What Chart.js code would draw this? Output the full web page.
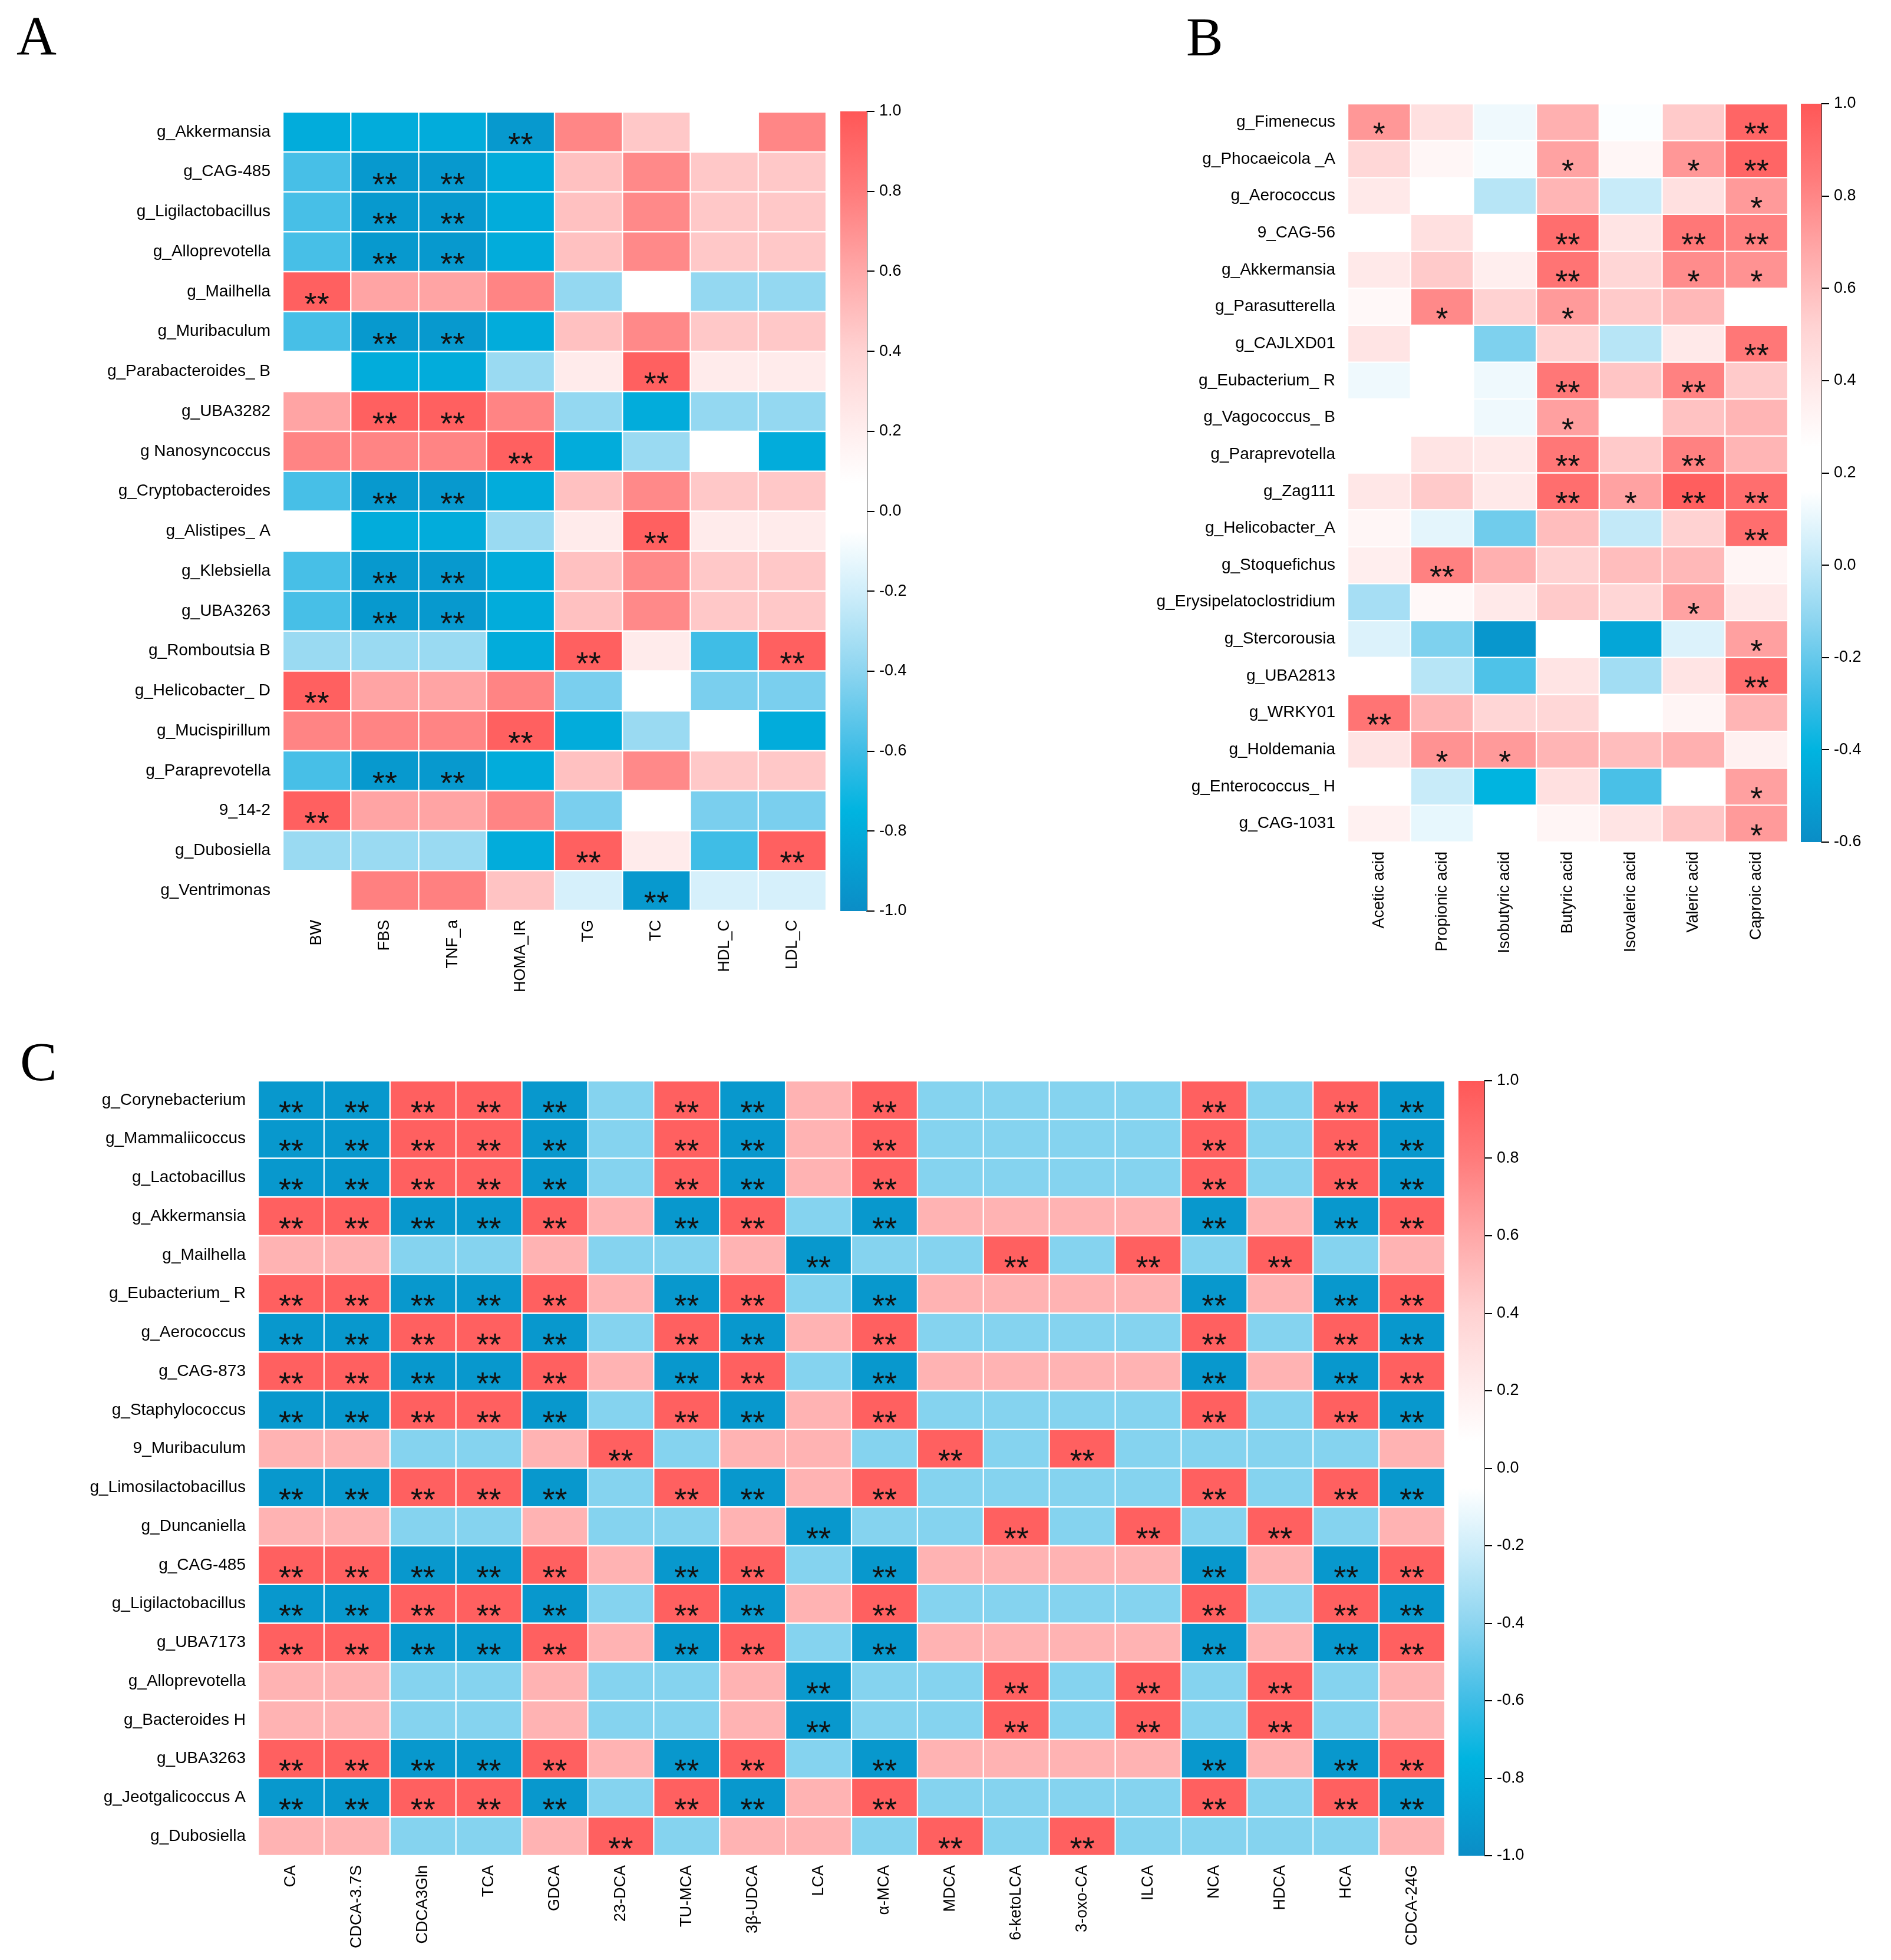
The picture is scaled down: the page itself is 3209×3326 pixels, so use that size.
<!DOCTYPE html>
<html>
<head>
<meta charset="utf-8">
<script src="https://cdn.jsdelivr.net/npm/chart.js@4.4.1/dist/chart.umd.min.js"></script>
<style>
  html, body { margin: 0; padding: 0; background: #fff; overflow: hidden; }
  #page { position: relative; width: 3209px; height: 3326px; background: #fff; }
  canvas { position: absolute; }
  .tag { position: absolute; font-family: 'Liberation Serif', serif; font-size: 94px; line-height: 1; color: #000; }
</style>
</head>
<body>
<div id="page">
  <div class="tag" style="left:28px;top:13px">A</div>
  <div class="tag" style="left:2013px;top:15px">B</div>
  <div class="tag" style="left:34px;top:1754px">C</div>
  <canvas id="heatA" width="1422" height="1720" style="left:0px;top:0px"></canvas>
  <canvas id="barA" width="200" height="1720" style="left:1400px;top:0px"></canvas>
  <canvas id="heatB" width="1154" height="1640" style="left:1900px;top:0px"></canvas>
  <canvas id="barB" width="179" height="1640" style="left:3030px;top:0px"></canvas>
  <canvas id="heatC" width="2472" height="1606" style="left:0px;top:1720px"></canvas>
  <canvas id="barC" width="250" height="1606" style="left:2450px;top:1720px"></canvas>
</div>
<script>
// ---- panel A: genera vs. metabolic indices ----
const colsA = ['BW', 'FBS', 'TNF_a', 'HOMA_IR', 'TG', 'TC', 'HDL_C', 'LDL_C'];
const rowsA = ['g_Akkermansia', 'g_CAG-485', 'g_Ligilactobacillus', 'g_Alloprevotella', 'g_Mailhella',
  'g_Muribaculum', 'g_Parabacteroides_ B', 'g_UBA3282', 'g Nanosyncoccus', 'g_Cryptobacteroides',
  'g_Alistipes_ A', 'g_Klebsiella', 'g_UBA3263', 'g_Romboutsia B', 'g_Helicobacter_ D',
  'g_Mucispirillum', 'g_Paraprevotella', '9_14-2', 'g_Dubosiella', 'g_Ventrimonas'];
const valsA = [
  [-0.80, -0.80, -0.80, -0.92, 0.75, 0.45, 0.00, 0.75],
  [-0.58, -0.92, -0.92, -0.80, 0.48, 0.74, 0.45, 0.45],
  [-0.58, -0.92, -0.92, -0.80, 0.48, 0.74, 0.45, 0.45],
  [-0.58, -0.92, -0.92, -0.80, 0.48, 0.74, 0.45, 0.45],
  [0.95, 0.62, 0.62, 0.76, -0.38, 0.00, -0.38, -0.38],
  [-0.58, -0.92, -0.92, -0.80, 0.48, 0.74, 0.45, 0.45],
  [0.00, -0.80, -0.80, -0.36, 0.22, 0.95, 0.22, 0.22],
  [0.62, 0.95, 0.95, 0.76, -0.38, -0.80, -0.38, -0.38],
  [0.76, 0.76, 0.76, 0.95, -0.80, -0.36, 0.00, -0.80],
  [-0.58, -0.92, -0.92, -0.80, 0.48, 0.74, 0.45, 0.45],
  [0.00, -0.80, -0.80, -0.36, 0.22, 0.95, 0.22, 0.22],
  [-0.58, -0.92, -0.92, -0.80, 0.48, 0.74, 0.45, 0.45],
  [-0.58, -0.92, -0.92, -0.80, 0.48, 0.74, 0.45, 0.45],
  [-0.36, -0.36, -0.36, -0.80, 0.95, 0.22, -0.60, 0.95],
  [0.95, 0.62, 0.62, 0.76, -0.45, 0.00, -0.45, -0.45],
  [0.76, 0.76, 0.76, 0.95, -0.80, -0.36, 0.00, -0.80],
  [-0.58, -0.92, -0.92, -0.80, 0.48, 0.74, 0.45, 0.45],
  [0.95, 0.62, 0.62, 0.76, -0.45, 0.00, -0.45, -0.45],
  [-0.36, -0.36, -0.36, -0.80, 0.95, 0.22, -0.60, 0.95],
  [0.00, 0.78, 0.78, 0.47, -0.18, -0.92, -0.18, -0.18]
];
// number of asterisks per cell
const sigA = ['00020000', '02200000', '02200000', '02200000', '20000000', '02200000', '00000200',
  '02200000', '00020000', '02200000', '00000200', '02200000', '02200000', '00002002', '20000000',
  '00020000', '02200000', '20000000', '00002002', '00000200'];

// ---- panel B: genera vs. short chain fatty acids ----
const colsB = ['Acetic acid', 'Propionic acid', 'Isobutyric acid', 'Butyric acid', 'Isovaleric acid', 'Valeric acid', 'Caproic acid'];
const rowsB = ['g_Fimenecus', 'g_Phocaeicola _A', 'g_Aerococcus', '9_CAG-56', 'g_Akkermansia',
  'g_Parasutterella', 'g_CAJLXD01', 'g_Eubacterium_ R', 'g_Vagococcus_ B', 'g_Paraprevotella',
  'g_Zag111', 'g_Helicobacter_A', 'g_Stoquefichus', 'g_Erysipelatoclostridium', 'g_Stercorousia',
  'g_UBA2813', 'g_WRKY01', 'g_Holdemania', 'g_Enterococcus_ H', 'g_CAG-1031'];
const valsB = [
  [0.74, 0.44, 0.12, 0.65, 0.15, 0.55, 0.94],
  [0.49, 0.31, 0.14, 0.70, 0.31, 0.74, 0.94],
  [0.39, 0.20, -0.02, 0.63, 0.02, 0.44, 0.73],
  [0.20, 0.44, 0.20, 0.90, 0.42, 0.86, 0.82],
  [0.39, 0.55, 0.36, 0.87, 0.50, 0.78, 0.76],
  [0.30, 0.79, 0.52, 0.73, 0.55, 0.62, 0.20],
  [0.42, 0.20, -0.15, 0.52, -0.02, 0.39, 0.86],
  [0.12, 0.20, 0.12, 0.86, 0.57, 0.82, 0.55],
  [0.20, 0.20, 0.12, 0.71, 0.20, 0.58, 0.63],
  [0.20, 0.42, 0.39, 0.86, 0.55, 0.82, 0.63],
  [0.40, 0.55, 0.39, 0.90, 0.70, 0.97, 0.90],
  [0.31, 0.09, -0.18, 0.60, 0.01, 0.52, 0.90],
  [0.36, 0.82, 0.65, 0.52, 0.60, 0.62, 0.32],
  [-0.06, 0.30, 0.39, 0.55, 0.50, 0.70, 0.39],
  [0.07, -0.15, -0.55, 0.20, -0.47, 0.07, 0.71],
  [0.20, -0.02, -0.25, 0.42, -0.07, 0.42, 0.90],
  [0.87, 0.63, 0.50, 0.49, 0.20, 0.32, 0.63],
  [0.42, 0.76, 0.73, 0.63, 0.60, 0.65, 0.34],
  [0.20, 0.02, -0.40, 0.44, -0.26, 0.20, 0.71],
  [0.34, 0.10, 0.20, 0.32, 0.42, 0.57, 0.73]
];
const sigB = ['1000002', '0001012', '0000001', '0002022', '0002011', '0101000', '0000002',
  '0002020', '0001000', '0002020', '0002122', '0000002', '0200000', '0000010', '0000001',
  '0000002', '2000000', '0110000', '0000001', '0000001'];

// ---- panel C: genera vs. bile acids ----
const colsC = ['CA', 'CDCA-3.7S', 'CDCA3Gln', 'TCA', 'GDCA', '23-DCA', 'TU-MCA', '3β-UDCA', 'LCA',
  'α-MCA', 'MDCA', '6-ketoLCA', '3-oxo-CA', 'ILCA', 'NCA', 'HDCA', 'HCA', 'CDCA-24G'];
const rowsC = ['g_Corynebacterium', 'g_Mammaliicoccus', 'g_Lactobacillus', 'g_Akkermansia', 'g_Mailhella',
  'g_Eubacterium_ R', 'g_Aerococcus', 'g_CAG-873', 'g_Staphylococcus', '9_Muribaculum',
  'g_Limosilactobacillus', 'g_Duncaniella', 'g_CAG-485', 'g_Ligilactobacillus', 'g_UBA7173',
  'g_Alloprevotella', 'g_Bacteroides H', 'g_UBA3263', 'g_Jeotgalicoccus A', 'g_Dubosiella'];
const valsC = [
  [-0.93, -0.93, 0.95, 0.95, -0.93, -0.42, 0.95, -0.93, 0.55, 0.95, -0.42, -0.42, -0.42, -0.42, 0.95, -0.42, 0.95, -0.93],
  [-0.93, -0.93, 0.95, 0.95, -0.93, -0.42, 0.95, -0.93, 0.55, 0.95, -0.42, -0.42, -0.42, -0.42, 0.95, -0.42, 0.95, -0.93],
  [-0.93, -0.93, 0.95, 0.95, -0.93, -0.42, 0.95, -0.93, 0.55, 0.95, -0.42, -0.42, -0.42, -0.42, 0.95, -0.42, 0.95, -0.93],
  [0.95, 0.95, -0.93, -0.93, 0.95, 0.55, -0.93, 0.95, -0.42, -0.93, 0.55, 0.55, 0.55, 0.55, -0.93, 0.55, -0.93, 0.95],
  [0.55, 0.55, -0.42, -0.42, 0.55, -0.42, -0.42, 0.55, -0.93, -0.42, -0.42, 0.95, -0.42, 0.95, -0.42, 0.95, -0.42, 0.55],
  [0.95, 0.95, -0.93, -0.93, 0.95, 0.55, -0.93, 0.95, -0.42, -0.93, 0.55, 0.55, 0.55, 0.55, -0.93, 0.55, -0.93, 0.95],
  [-0.93, -0.93, 0.95, 0.95, -0.93, -0.42, 0.95, -0.93, 0.55, 0.95, -0.42, -0.42, -0.42, -0.42, 0.95, -0.42, 0.95, -0.93],
  [0.95, 0.95, -0.93, -0.93, 0.95, 0.55, -0.93, 0.95, -0.42, -0.93, 0.55, 0.55, 0.55, 0.55, -0.93, 0.55, -0.93, 0.95],
  [-0.93, -0.93, 0.95, 0.95, -0.93, -0.42, 0.95, -0.93, 0.55, 0.95, -0.42, -0.42, -0.42, -0.42, 0.95, -0.42, 0.95, -0.93],
  [0.55, 0.55, -0.42, -0.42, 0.55, 0.95, -0.42, 0.55, 0.55, -0.42, 0.95, -0.42, 0.95, -0.42, -0.42, -0.42, -0.42, 0.55],
  [-0.93, -0.93, 0.95, 0.95, -0.93, -0.42, 0.95, -0.93, 0.55, 0.95, -0.42, -0.42, -0.42, -0.42, 0.95, -0.42, 0.95, -0.93],
  [0.55, 0.55, -0.42, -0.42, 0.55, -0.42, -0.42, 0.55, -0.93, -0.42, -0.42, 0.95, -0.42, 0.95, -0.42, 0.95, -0.42, 0.55],
  [0.95, 0.95, -0.93, -0.93, 0.95, 0.55, -0.93, 0.95, -0.42, -0.93, 0.55, 0.55, 0.55, 0.55, -0.93, 0.55, -0.93, 0.95],
  [-0.93, -0.93, 0.95, 0.95, -0.93, -0.42, 0.95, -0.93, 0.55, 0.95, -0.42, -0.42, -0.42, -0.42, 0.95, -0.42, 0.95, -0.93],
  [0.95, 0.95, -0.93, -0.93, 0.95, 0.55, -0.93, 0.95, -0.42, -0.93, 0.55, 0.55, 0.55, 0.55, -0.93, 0.55, -0.93, 0.95],
  [0.55, 0.55, -0.42, -0.42, 0.55, -0.42, -0.42, 0.55, -0.93, -0.42, -0.42, 0.95, -0.42, 0.95, -0.42, 0.95, -0.42, 0.55],
  [0.55, 0.55, -0.42, -0.42, 0.55, -0.42, -0.42, 0.55, -0.93, -0.42, -0.42, 0.95, -0.42, 0.95, -0.42, 0.95, -0.42, 0.55],
  [0.95, 0.95, -0.93, -0.93, 0.95, 0.55, -0.93, 0.95, -0.42, -0.93, 0.55, 0.55, 0.55, 0.55, -0.93, 0.55, -0.93, 0.95],
  [-0.93, -0.93, 0.95, 0.95, -0.93, -0.42, 0.95, -0.93, 0.55, 0.95, -0.42, -0.42, -0.42, -0.42, 0.95, -0.42, 0.95, -0.93],
  [0.55, 0.55, -0.42, -0.42, 0.55, 0.95, -0.42, 0.55, 0.55, -0.42, 0.95, -0.42, 0.95, -0.42, -0.42, -0.42, -0.42, 0.55]
];
const sigC = ['222220220200002022', '222220220200002022', '222220220200002022', '222220220200002022',
  '000000002002020200', '222220220200002022', '222220220200002022', '222220220200002022',
  '222220220200002022', '000002000020200000', '222220220200002022', '000000002002020200',
  '222220220200002022', '222220220200002022', '222220220200002022', '000000002002020200',
  '000000002002020200', '222220220200002022', '222220220200002022', '000002000020200000'];

// colour ramp, position 0 = lower end of the scale, 1 = upper end
const STOPS = [
  [0.00, [11, 141, 198]],
  [0.125, [0, 180, 224]],
  [0.20, [63, 189, 230]],
  [0.30, [141, 213, 240]],
  [0.40, [208, 238, 250]],
  [0.475, [255, 255, 255]],
  [0.535, [255, 255, 255]],
  [0.60, [255, 238, 238]],
  [0.70, [255, 210, 210]],
  [0.80, [255, 168, 168]],
  [0.90, [255, 123, 123]],
  [1.00, [255, 87, 87]]
];

function cmap(t) {
  t = Math.max(0, Math.min(1, t));
  for (let i = 1; i < STOPS.length; i++) {
    const [t1, c1] = STOPS[i];
    const [t0, c0] = STOPS[i - 1];
    if (t <= t1) {
      const f = (t - t0) / (t1 - t0);
      const c = c0.map((v, k) => Math.round(v + (c1[k] - v) * f));
      return `rgb(${c[0]},${c[1]},${c[2]})`;
    }
  }
  return 'rgb(255,87,87)';
}

Chart.defaults.font.family = "'Liberation Sans', Arial, sans-serif";
Chart.defaults.color = '#000';

const labelFont = { family: "'Liberation Sans', Arial, sans-serif", size: 27 };
const rowFont = { family: "'Liberation Sans', Arial, sans-serif", size: 28 };

// asterisks drawn on top of each cell
const starPlugin = {
  id: 'stars',
  afterDatasetsDraw(chart) {
    const ctx = chart.ctx;
    ctx.save();
    ctx.font = "54px 'Liberation Sans', Arial, sans-serif";
    ctx.fillStyle = '#111';
    ctx.textAlign = 'center';
    ctx.textBaseline = 'alphabetic';
    chart.data.datasets.forEach((ds, i) => {
      chart.getDatasetMeta(i).data.forEach((bar, j) => {
        const n = +ds.sig[j];
        if (!n) return;
        const s = '*'.repeat(n);
        const m = ctx.measureText(s);
        const h = Math.abs(bar.base - bar.y);
        const cy = (bar.y + bar.base) / 2 + h * 0.17;
        ctx.fillText(s, bar.x, cy + (m.actualBoundingBoxAscent - m.actualBoundingBoxDescent) / 2);
      });
    });
    ctx.restore();
  }
};

function heatmap(id, rows, cols, vals, sig, lo, hi, area) {
  const canvas = document.getElementById(id);
  const W = canvas.width, H = canvas.height;
  new Chart(canvas, {
    type: 'bar',
    data: {
      labels: cols,
      datasets: rows.map((r, i) => ({
        label: r,
        data: cols.map(() => 1),
        backgroundColor: vals[i].map(v => cmap((v - lo) / (hi - lo))),
        borderColor: '#ffffff',
        borderWidth: 1.5,
        borderSkipped: false,
        barPercentage: 1,
        categoryPercentage: 1,
        sig: sig[i]
      }))
    },
    options: {
      responsive: false,
      animation: false,
      layout: { padding: { top: area.top, right: W - area.right, left: 0, bottom: 0 } },
      plugins: { legend: { display: false }, tooltip: { enabled: false } },
      scales: {
        x: {
          stacked: true,
          grid: { display: false },
          border: { display: false },
          ticks: { autoSkip: false, minRotation: 90, maxRotation: 90, padding: 8, color: '#000', font: labelFont },
          afterFit: s => { s.height = H - area.bottom; }
        },
        y: {
          stacked: true,
          min: 0,
          max: rows.length,
          reverse: true,
          grid: { display: false },
          border: { display: false },
          afterBuildTicks: s => { s.ticks = rows.map((_, i) => ({ value: i + 0.5 })); },
          ticks: { autoSkip: false, padding: 13, color: '#000', font: rowFont, callback: (v, i) => rows[i] },
          afterFit: s => { s.width = area.left; }
        }
      }
    },
    plugins: [starPlugin]
  });
}

function colorbar(id, lo, hi, area) {
  const canvas = document.getElementById(id);
  const W = canvas.width, H = canvas.height;
  new Chart(canvas, {
    type: 'bar',
    data: {
      labels: [''],
      datasets: [{
        data: [[lo, hi]],
        barPercentage: 1,
        categoryPercentage: 1,
        borderWidth: 0,
        backgroundColor: c => {
          const a = c.chart.chartArea;
          if (!a) return '#fff';
          const g = c.chart.ctx.createLinearGradient(0, a.bottom, 0, a.top);
          STOPS.forEach(([t, rgb]) => g.addColorStop(t, `rgb(${rgb[0]},${rgb[1]},${rgb[2]})`));
          return g;
        }
      }]
    },
    options: {
      responsive: false,
      animation: false,
      layout: { padding: { left: area.left, top: area.top, bottom: H - area.bottom, right: 0 } },
      plugins: { legend: { display: false }, tooltip: { enabled: false } },
      scales: {
        x: { display: false },
        y: {
          position: 'right',
          min: lo,
          max: hi,
          grid: { drawOnChartArea: false, drawTicks: true, tickLength: 13, color: '#000', lineWidth: 2 },
          border: { display: true, color: '#333', width: 2 },
          ticks: {
            stepSize: 0.2,
            padding: 8,
            color: '#000',
            font: labelFont,
            callback: v => (Math.abs(v) < 1e-9 ? 0 : v).toFixed(1)
          },
          afterFit: s => { s.width = W - area.right; }
        }
      }
    }
  });
}

heatmap('heatA', rowsA, colsA, valsA, sigA, -1, 1, { left: 480, right: 1402, top: 190, bottom: 1545 });
colorbar('barA', -1, 1, { left: 26, right: 71, top: 189, bottom: 1546 });
heatmap('heatB', rowsB, colsB, valsB, sigB, -0.6, 1, { left: 387, right: 1134, top: 176, bottom: 1429 });
colorbar('barB', -0.6, 1, { left: 26, right: 61, top: 176, bottom: 1429 });
heatmap('heatC', rowsC, colsC, valsC, sigC, -1, 1, { left: 438, right: 2452, top: 114, bottom: 1429 });
colorbar('barC', -1, 1, { left: 25, right: 69, top: 114, bottom: 1429 });
</script>
</body>
</html>
